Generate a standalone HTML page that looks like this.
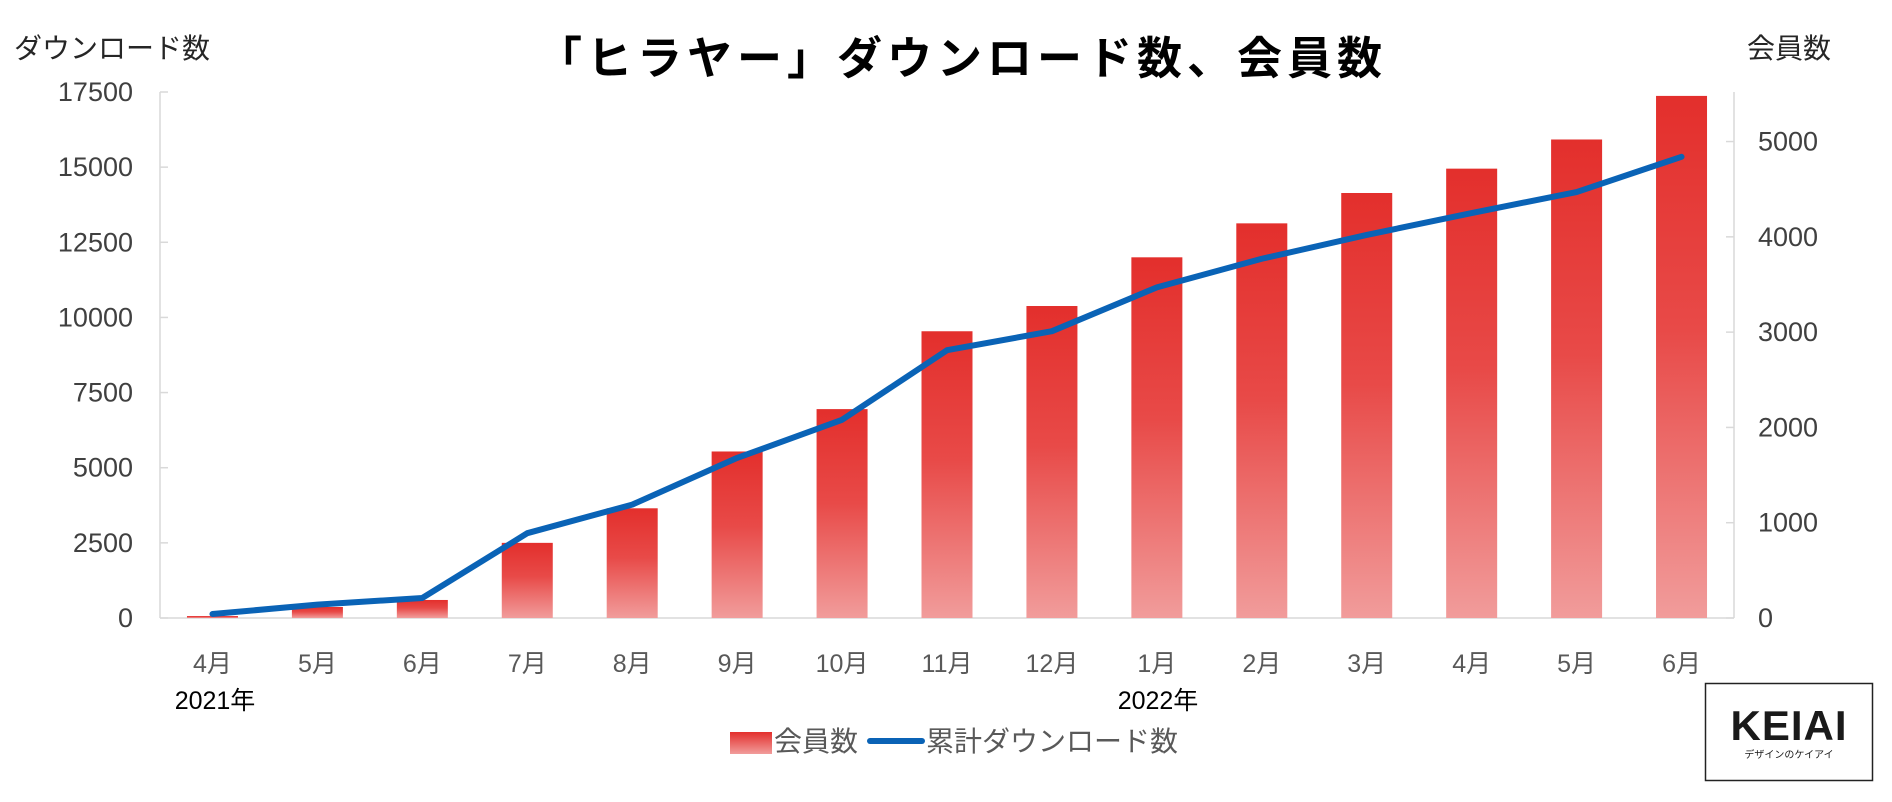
<!DOCTYPE html>
<html><head><meta charset="utf-8"><style>
html,body{margin:0;padding:0;background:#fff;}
svg{display:block;font-family:"Liberation Sans","Noto Sans CJK JP",sans-serif;}
</style></head><body>
<svg id="chart" width="1892" height="802" viewBox="0 0 1892 802">
<defs>
<linearGradient id="barGrad" x1="0" y1="0" x2="0" y2="1">
<stop offset="0" stop-color="#e32f2c"/><stop offset="0.45" stop-color="#e84a48"/><stop offset="1" stop-color="#f19c9b"/>
</linearGradient>
<linearGradient id="legGrad" x1="0" y1="0" x2="0" y2="1">
<stop offset="0" stop-color="#e32f2c"/><stop offset="1" stop-color="#f19c9b"/>
</linearGradient>
</defs>
<text x="962" y="74" text-anchor="middle" font-size="45" font-weight="bold" letter-spacing="5" fill="#000">「ヒラヤー」ダウンロード数、会員数</text>
<text x="14" y="58" font-size="28" fill="#262626">ダウンロード数</text>
<text x="1789" y="58" text-anchor="middle" font-size="28" fill="#262626">会員数</text>
<g id="axes"></g>
<g id="bars"></g>
<g id="line"></g>
<text x="215" y="709" text-anchor="middle" font-size="25" fill="#000">2021年</text>
<text x="1158" y="709" text-anchor="middle" font-size="25" fill="#000">2022年</text>
<g>
<rect x="730" y="732" width="42" height="22" fill="url(#legGrad)"/>
<text x="774" y="751" font-size="28" fill="#595959">会員数</text>
<line x1="870" y1="741" x2="922" y2="741" stroke="#0a63b6" stroke-width="6" stroke-linecap="round"/>
<text x="926" y="751" font-size="28" fill="#595959">累計ダウンロード数</text>
</g>
<g>
<rect x="1705.5" y="683.5" width="167" height="97" fill="#fff" stroke="#222" stroke-width="1.5"/>
<text x="1789" y="740" text-anchor="middle" font-size="42" font-weight="bold" fill="#1a1a1a" letter-spacing="1">KEIAI</text>
<text x="1789" y="758" text-anchor="middle" font-size="10" fill="#1a1a1a">デザインのケイアイ</text>
</g>
</svg>
<script>
const categories = ["4月","5月","6月","7月","8月","9月","10月","11月","12月","1月","2月","3月","4月","5月","6月"];
const barValues = [66,366,600,2500,3650,5540,6950,9540,10380,12000,13130,14140,14950,15920,17370];
const lineValues = [42,140,210,890,1190,1680,2080,2810,3010,3470,3770,4020,4250,4470,4840];
const leftTicks = [0,2500,5000,7500,10000,12500,15000,17500];
const rightTicks = [0,1000,2000,3000,4000,5000];

const NS = "http://www.w3.org/2000/svg";
const X0 = 160, X1 = 1734, Y0 = 618, Y1 = 92;
const LMAX = 17500, RMAX = 5520;
const step = (X1 - X0) / categories.length;
const xC = i => X0 + (i + 0.5) * step;
const yL = v => Y0 - v / LMAX * (Y0 - Y1);
const yR = v => Y0 - v / RMAX * (Y0 - Y1);
function mk(tag, attrs, parent){const e=document.createElementNS(NS,tag);for(const k in attrs)e.setAttribute(k,attrs[k]);parent.appendChild(e);return e;}

const axes = document.getElementById("axes");
const a1 = mk("line",{x1:X0,y1:Y1,x2:X0,y2:Y0,stroke:"#d9d9d9","stroke-width":1.5},axes);


const a2 = mk("line",{x1:X1,y1:Y1,x2:X1,y2:Y0,stroke:"#d9d9d9","stroke-width":1.5},axes);


const a3 = mk("line",{x1:X0,y1:Y0,x2:X1,y2:Y0,stroke:"#d9d9d9","stroke-width":1.5},axes);


leftTicks.forEach(v=>{
  const tk = mk("line",{x1:X0,y1:yL(v),x2:X0+8,y2:yL(v),stroke:"#d9d9d9","stroke-width":1.5},axes);
  
  
  const t = mk("text",{x:133,y:yL(v)+9,"text-anchor":"end","font-size":27,fill:"#404040"},axes);
  t.textContent = v;
  
  
});
rightTicks.forEach(v=>{
  const tk = mk("line",{x1:X1-8,y1:yR(v),x2:X1,y2:yR(v),stroke:"#d9d9d9","stroke-width":1.5},axes);
  
  
  const t = mk("text",{x:1758,y:yR(v)+9,"font-size":27,fill:"#404040"},axes);
  t.textContent = v;
  
  
});
categories.forEach((c,i)=>{
  const t = mk("text",{x:xC(i),y:672,"text-anchor":"middle","font-size":25,fill:"#595959"},axes);
  t.textContent = c;
  
  
});
const bars = document.getElementById("bars");
const BW = 51;
barValues.forEach((v,i)=>{
  const r = mk("rect",{x:xC(i)-BW/2,y:yL(v),width:BW,height:Y0-yL(v),fill:"url(#barGrad)"},bars);
  
  
});
const lg = document.getElementById("line");
const pts = lineValues.map((v,i)=>xC(i)+","+yR(v)).join(" ");
const pl = mk("polyline",{points:pts,fill:"none",stroke:"#0a63b6","stroke-width":6,"stroke-linejoin":"round","stroke-linecap":"round"},lg);


</script>
</body></html>
